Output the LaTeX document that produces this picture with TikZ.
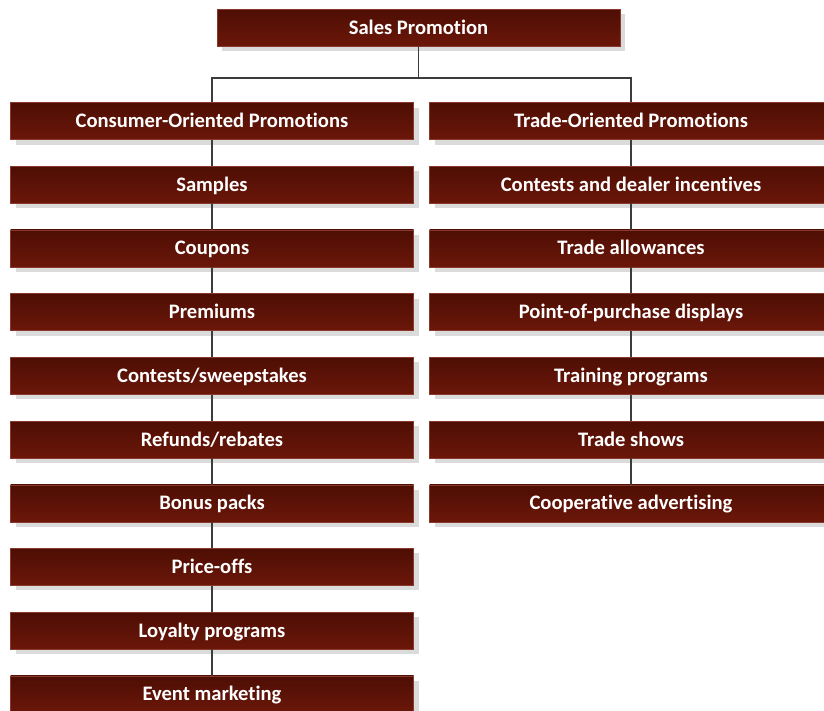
\documentclass[tikz,border=0pt]{standalone}
\usepackage{fontspec}
\setmainfont{Carlito}[Ligatures={NoCommon}]
\usetikzlibrary{shadows,positioning}
\definecolor{boxtop}{HTML}{4E0E04}
\definecolor{boxbot}{HTML}{6B1709}
\definecolor{boxedge}{HTML}{8A3A2C}
\definecolor{linkcol}{HTML}{3C3C3C}
\tikzset{
  catbox/.style={
    rectangle, minimum width=403pt, minimum height=37pt, inner sep=0pt,
    text height=17pt, text depth=4pt,
    top color=boxtop, bottom color=boxbot, draw=boxedge, line width=0.4pt,
    text=white, font=\bfseries\fontsize{20.6}{24}\selectfont,
    drop shadow={shadow xshift=5pt, shadow yshift=-5pt, fill=black!20, opacity=0.7}
  },
  link/.style={draw=linkcol, line width=1.5pt}
}
\begin{document}
\begin{tikzpicture}[x=1pt,y=-1pt]
  \useasboundingbox (0,0) rectangle (824,710);
  \clip (0,0) rectangle (824,710);
  \fill[white] (0,0) rectangle (824,710);

  % root
  \node[catbox] (root) at (418.5,27.5) {Sales Promotion};

  % column heads
  \node[catbox] (cons) at (212,121) {Consumer-Oriented Promotions};
  \node[catbox] (trade) at (631,121) {Trade-Oriented Promotions};

  % consumer-oriented items
  \node[catbox] (c1) at (212,184.7) {Samples};
  \node[catbox] (c2) at (212,248.4) {Coupons};
  \node[catbox] (c3) at (212,312.1) {Premiums};
  \node[catbox] (c4) at (212,375.8) {Contests/sweepstakes};
  \node[catbox] (c5) at (212,439.5) {Refunds/rebates};
  \node[catbox] (c6) at (212,503.2) {Bonus packs};
  \node[catbox] (c7) at (212,566.9) {Price-offs};
  \node[catbox] (c8) at (212,630.6) {Loyalty programs};
  \node[catbox] (c9) at (212,694.3) {Event marketing};

  % trade-oriented items
  \node[catbox] (t1) at (631,184.7) {Contests and dealer incentives};
  \node[catbox] (t2) at (631,248.4) {Trade allowances};
  \node[catbox] (t3) at (631,312.1) {Point-of-purchase displays};
  \node[catbox] (t4) at (631,375.8) {Training programs};
  \node[catbox] (t5) at (631,439.5) {Trade shows};
  \node[catbox] (t6) at (631,503.2) {Cooperative advertising};

  % connectors
  \coordinate (fork) at (418.5,78);
  \path[link] (root.south) -- (fork);
  \path[link] (cons.north) |- (fork) -| (trade.north);

  \foreach \a/\b in {cons/c1,c1/c2,c2/c3,c3/c4,c4/c5,c5/c6,c6/c7,c7/c8,c8/c9,
                     trade/t1,t1/t2,t2/t3,t3/t4,t4/t5,t5/t6}
    \path[link] (\a.south) -- (\b.north);
\end{tikzpicture}
\end{document}
